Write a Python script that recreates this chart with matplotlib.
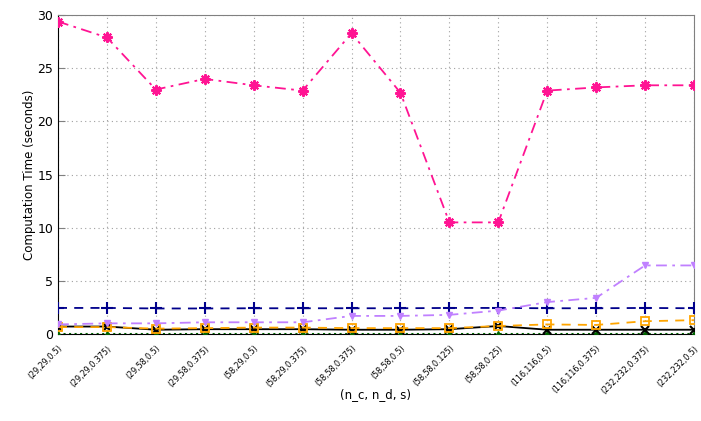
import matplotlib
matplotlib.use("Agg")
import matplotlib.pyplot as plt

categories = ["(29,29,0.5)", "(29,29,0.375)", "(29,58,0.5)", "(29,58,0.375)",
              "(58,29,0.5)", "(58,29,0.375)", "(58,58,0.375)", "(58,58,0.5)",
              "(58,58,0.125)", "(58,58,0.25)", "(116,116,0.5)", "(116,116,0.375)",
              "(232,232,0.375)", "(232,232,0.5)"]

pink = [29.4, 27.9, 23.0, 24.0, 23.4, 22.9, 28.3, 22.7, 10.5, 10.5, 22.9, 23.2, 23.4, 23.4]
purple = [0.9, 1.0, 1.0, 1.1, 1.1, 1.1, 1.7, 1.7, 1.8, 2.2, 3.0, 3.4, 6.45, 6.45]
navy = [2.45, 2.45, 2.4, 2.4, 2.42, 2.42, 2.42, 2.42, 2.45, 2.45, 2.42, 2.42, 2.45, 2.42]
orange = [0.65, 0.65, 0.5, 0.55, 0.6, 0.6, 0.55, 0.55, 0.55, 0.75, 0.9, 0.85, 1.2, 1.3]
black = [0.7, 0.7, 0.4, 0.45, 0.45, 0.45, 0.4, 0.4, 0.45, 0.75, 0.4, 0.4, 0.4, 0.4]
green = [0.0] * 14

fig = plt.figure(figsize=(7.01, 4.21), dpi=100)
ax = fig.add_axes([0.0827, 0.2067, 0.9073, 0.7573])
x = list(range(len(categories)))

ax.plot(x, green, color="#006400", linestyle=":", linewidth=1.5, marker="^", markersize=5, zorder=3)
ax.plot(x, black, color="black", linestyle="-", linewidth=1.3, marker="x", markersize=6, markeredgewidth=1.5, zorder=4)
ax.plot(x, orange, color="#ffa500", linestyle=(0, (5, 4)), linewidth=1.3, marker="s", markersize=6,
        markerfacecolor="none", markeredgewidth=1.3, zorder=4)
ax.plot(x, navy, color="#00008b", linestyle=(0, (5, 4)), linewidth=1.3, marker="+", markersize=9,
        markeredgewidth=1.5, zorder=4)
ax.plot(x, purple, color="#c080ff", linestyle=(0, (6, 3, 1.5, 3)), linewidth=1.3, marker="v", markersize=5, zorder=4)
ax.plot(x, pink, color="#ff1493", linestyle=(0, (6, 3, 1.5, 3)), linewidth=1.3, marker=(8, 2, 0), markersize=7.5,
        markeredgewidth=1.5, zorder=5)

ax.set_xlim(0, len(categories) - 1)
ax.set_ylim(0, 30)
ax.set_yticks([0, 5, 10, 15, 20, 25, 30])
ax.set_xticks(x)
ax.set_xticklabels(categories, rotation=45, ha="right", rotation_mode="anchor", fontsize=5.8)
ax.tick_params(axis="y", labelsize=9, direction="in", length=5, color="#808080")
ax.tick_params(axis="x", direction="in", length=0, pad=7)
ax.grid(True, linestyle=(0, (1, 3)), color="#a0a0a0", linewidth=0.8)
ax.set_axisbelow(True)
ax.spines["top"].set_color("#808080")
ax.spines["right"].set_color("#808080")
ax.spines["left"].set_color("black")
ax.spines["bottom"].set_color("black")
ax.set_xlabel("(n_c, n_d, s)", fontsize=8.5)
ax.set_ylabel("Computation Time (seconds)", fontsize=8.5)
ax.xaxis.set_label_coords(0.5, -0.17)
ax.yaxis.set_label_coords(-0.035, 0.5)

fig.savefig("out.png", dpi=100)
